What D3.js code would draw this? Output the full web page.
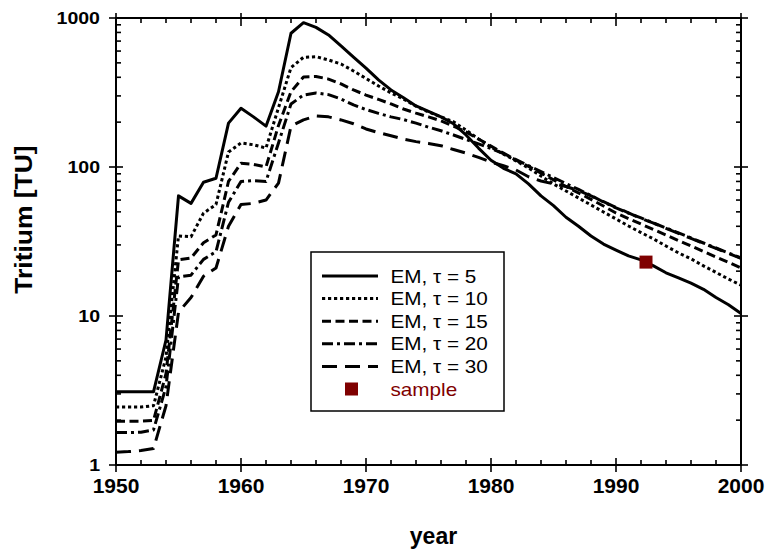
<!DOCTYPE html>
<html><head><meta charset="utf-8">
<script src="https://cdn.jsdelivr.net/npm/d3@7"></script>
<style>
body{margin:0;background:#fff}
svg{display:block}
text{font-family:"Liberation Sans",Arial,Helvetica,sans-serif;fill:#000}
</style>
</head><body>
<svg id="chart" width="766" height="551"></svg>
<script>
// ---------------- data ----------------
const years = [1950,1951,1952,1953,1954,1955,1956,1957,1958,1959,1960,1961,1962,1963,1964,1965,1966,1967,1968,1969,
  1970,1971,1972,1973,1974,1975,1976,1977,1978,1979,1980,1981,1982,1983,1984,1985,1986,1987,1988,1989,
  1990,1991,1992,1993,1994,1995,1996,1997,1998,1999,2000];

const em5 = [3.1,3.1,3.1,3.1,6.9,64,57,79,84,197,248,217,188,320,790,930,865,769,649,547,
  461,384,329,292,257,236,217,195,164,134,111,98,90,77,64,55,46,40,34.4,30.4,
  27.7,25.3,23.8,21.7,19.5,18,16.6,15.1,13.3,11.9,10.4];

const em10 = [2.45,2.45,2.45,2.5,5.3,34.5,34,49,56,126,145,141,134,250,465,545,550,523,491,441,
  393,350,314,286,256,234,217,201,177,154,136,122,110,98.5,87,77,69,62,55.6,49.9,
  44.8,40.2,36.3,32.9,29.5,26.5,24.2,21.7,19.6,17.7,16.1];

const em15 = [1.97,1.97,1.97,1.99,4.1,23.8,24.5,31,35,80,106,104,100,190,320,402,405,389,361,329,
  304,284,265,245,230,217,204,188,172,154,138,124,111,101,91,82,74,67,60.6,54.7,
  49.1,45,41.4,38,35,32.1,29.5,27.1,24.9,22.9,21];

const em20 = [1.65,1.65,1.66,1.72,3.35,18.3,18.8,24,27,58,80,81,80,145,265,304,314,306,286,261,
  243,229,217,208,197,185,175,164,153,143,133,123,112,102,93.3,85,77.5,70.7,64.4,58.2,
  53.1,49.1,45.5,42.1,39,36.1,33.4,30.9,28.6,26.5,24.5];

const em30 = [1.22,1.23,1.25,1.29,2.5,10.6,13.3,18.5,21,40,56,57,60,78,188,207,220,217,207,195,
  180,170,162,154,148,144,139,131,124,116,108,102,95.5,86,80.5,77,74,69.5,64,58.5,
  53.5,49.3,45.2,42,38.8,35.8,33.2,30.7,28.4,26.3,24.4];

const seriesNames = ["EM, \u03C4 = 5","EM, \u03C4 = 10","EM, \u03C4 = 15","EM, \u03C4 = 20","EM, \u03C4 = 30"];
const sampleYear = [1992.4];
const sampleValue = [23];
const sampleLabel = "sample";

const xTickValues = [1950,1960,1970,1980,1990,2000];
const xTickLabels = ["1950","1960","1970","1980","1990","2000"];
const xMinorValues = [1952,1954,1956,1958,1962,1964,1966,1968,1972,1974,1976,1978,1982,1984,1986,1988,1992,1994,1996,1998];
const yTickValues = [1,10,100,1000];
const yTickLabels = ["1","10","100","1000"];
const yMinorMultipliers = [2,3,4,5,6,7,8,9];
const xTitle = "year";
const yTitle = "Tritium [TU]";

// ---------------- styles ----------------
const seriesData = [em5, em10, em15, em20, em30];
const dashes = [null, "3.2,2.8", "9,4.5", "11,4,3,4", "15,8"];
const sampleColor = "#7f0000";

// ---------------- drawing ----------------
const svg = d3.select("#chart");
const L = 116, R = 741, T = 18, B = 465;
const x = d3.scaleLinear().domain([1950, 2000]).range([L, R]);
const y = d3.scaleLog().domain([1, 1000]).range([B, T]);

const gAx = svg.append("g").attr("stroke", "#000").attr("stroke-width", 1.6);

// minor y ticks (inside, left and right)
const yMinor = [];
yTickValues.slice(0, -1).forEach(d => yMinorMultipliers.forEach(m => yMinor.push(d * m)));
yMinor.forEach(v => {
  gAx.append("line").attr("x1", x(1950)).attr("x2", x(1950) + 5).attr("y1", y(v)).attr("y2", y(v));
  gAx.append("line").attr("x1", x(2000)).attr("x2", x(2000) - 5).attr("y1", y(v)).attr("y2", y(v));
});
// major y ticks (crossing)
yTickValues.forEach(v => {
  gAx.append("line").attr("x1", x(1950) - 7).attr("x2", x(1950) + 7).attr("y1", y(v)).attr("y2", y(v));
  gAx.append("line").attr("x1", x(2000) - 7).attr("x2", x(2000) + 7).attr("y1", y(v)).attr("y2", y(v));
});
// minor x ticks
xMinorValues.forEach(v => {
  gAx.append("line").attr("x1", x(v)).attr("x2", x(v)).attr("y1", y(1)).attr("y2", y(1) - 5);
  gAx.append("line").attr("x1", x(v)).attr("x2", x(v)).attr("y1", y(1000)).attr("y2", y(1000) + 5);
});
// major x ticks
xTickValues.forEach(v => {
  gAx.append("line").attr("x1", x(v)).attr("x2", x(v)).attr("y1", y(1) - 7).attr("y2", y(1) + 7);
  gAx.append("line").attr("x1", x(v)).attr("x2", x(v)).attr("y1", y(1000) - 5).attr("y2", y(1000) + 8);
});
// frame
svg.append("rect").attr("x", L).attr("y", T).attr("width", R - L).attr("height", B - T)
  .attr("fill", "none").attr("stroke", "#000").attr("stroke-width", 2);

// tick labels
xTickValues.forEach((v, i) => {
  svg.append("text").attr("x", x(v)).attr("y", 493).attr("text-anchor", "middle")
    .attr("font-size", 21).attr("font-weight", "bold").text(xTickLabels[i]);
});
yTickValues.forEach((v, i) => {
  svg.append("text").attr("transform", `translate(${x(1950) - 16},${y(v) + 6}) scale(1.15,1)`)
    .attr("text-anchor", "end").attr("font-size", 17).attr("font-weight", "bold").text(yTickLabels[i]);
});

// axis titles
svg.append("text").attr("x", (L + R) / 2 + 5).attr("y", 544).attr("text-anchor", "middle")
  .attr("font-size", 23).attr("font-weight", "bold").text(xTitle);
svg.append("text").attr("transform", `translate(32,${(T + B) / 2 - 22}) rotate(-90) scale(1.15,1)`)
  .attr("text-anchor", "middle").attr("font-size", 23).attr("font-weight", "bold").text(yTitle);

// series lines
const line = d3.line().x((d, i) => x(years[i])).y(d => y(d));
seriesData.forEach((s, k) => {
  svg.append("path").datum(s).attr("d", line).attr("fill", "none").attr("stroke", "#000")
    .attr("stroke-width", 3).attr("stroke-linejoin", "round")
    .attr("stroke-dasharray", dashes[k]);
});

// sample
svg.selectAll(".smp").data(sampleYear).enter().append("rect").attr("class", "smp")
  .attr("x", (d) => x(d) - 6.5).attr("y", (d, i) => y(sampleValue[i]) - 6.5)
  .attr("width", 13).attr("height", 13).attr("fill", sampleColor);

// legend
const lg = svg.append("g");
const lx = 311, ly = 252, lw = 193, lh = 159, rowH = 22.6, row0 = 276;
lg.append("rect").attr("x", lx).attr("y", ly).attr("width", lw).attr("height", lh)
  .attr("fill", "#fff").attr("stroke", "#000").attr("stroke-width", 1.5);
seriesNames.forEach((name, k) => {
  const cy = row0 + k * rowH;
  lg.append("line").attr("x1", 322).attr("x2", 378).attr("y1", cy).attr("y2", cy)
    .attr("stroke", "#000").attr("stroke-width", 3).attr("stroke-dasharray", dashes[k]);
  lg.append("text").attr("transform", `translate(390.5,${cy + 6.5}) scale(1.15,1)`)
    .attr("font-size", 18).text(name);
});
{
  const cy = row0 + 5 * rowH;
  lg.append("rect").attr("x", 345).attr("y", cy - 6.5).attr("width", 13).attr("height", 13).attr("fill", sampleColor);
  lg.append("text").attr("transform", `translate(390.5,${cy + 6.5}) scale(1.15,1)`)
    .attr("font-size", 18).style("fill", sampleColor).text(sampleLabel);
}
</script>
</body></html>
